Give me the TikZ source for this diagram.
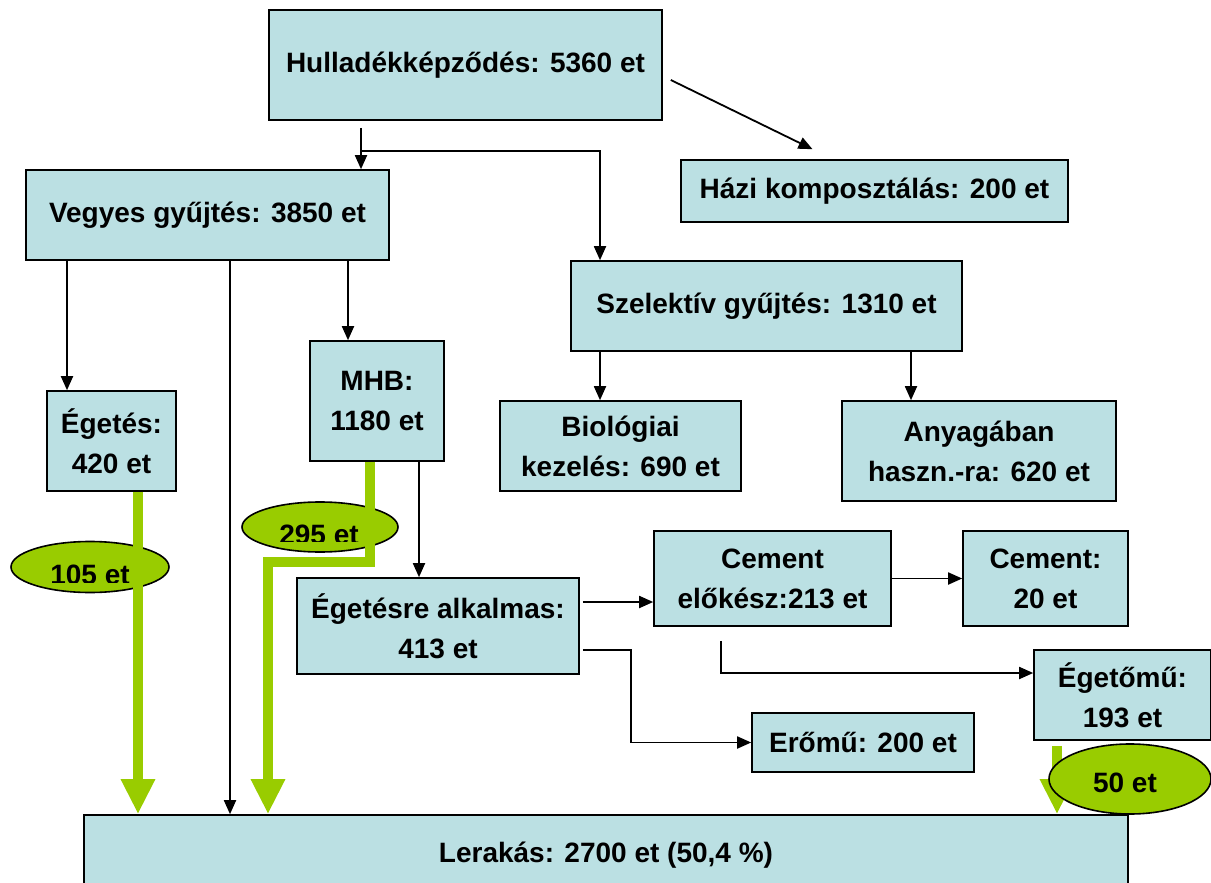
\documentclass[tikz,border=0pt]{standalone}
\usepackage{fontspec}
\setmainfont{Liberation Sans}
\usepackage{tikz}
\usetikzlibrary{arrows.meta,shapes.geometric}

\definecolor{boxblue}{HTML}{BBE0E3}
\definecolor{flowgreen}{HTML}{99CC00}

\begin{document}
\begin{tikzpicture}[
    x=0.5pt, y=-0.5pt,
    box/.style={draw, line width=0.8pt, fill=boxblue, align=center, inner sep=0pt,
        font=\fontsize{14}{20}\selectfont\bfseries},
    flow/.style={-{Triangle[length=7pt,width=6pt]}, line width=0.9pt},
    waste/.style={-{Triangle[length=17.5pt,width=16pt]}, draw=flowgreen, line width=5pt},
    amount/.style={ellipse, draw, line width=0.8pt, fill=flowgreen, inner sep=0pt},
    amounttext/.style={font=\fontsize{14}{16}\selectfont\bfseries}
]
\useasboundingbox (0,0) rectangle (1211,883);

% Boxes
\node[box, minimum width=196.5pt, minimum height=55pt] (hull) at (465.5,65) {Hulladékképződés: 5360 et};
\node[box, minimum width=193.5pt, minimum height=31pt] (hazi) at (874.5,191) {Házi komposztálás: 200 et};
\node[box, minimum width=181.5pt, minimum height=45pt] (vegyes) at (207.5,215) {Vegyes gyűjtés: 3850 et};
\node[box, minimum width=195.5pt, minimum height=45pt] (szel) at (766.5,306) {Szelektív gyűjtés: 1310 et};
\node[box, minimum width=64.5pt, minimum height=50pt] (eget) at (111.5,441) {Égetés:\\420 et};
\node[box, minimum width=67pt, minimum height=60pt] (mhb) at (377,401) {MHB:\\1180 et};
\node[box, minimum width=120.5pt, minimum height=45pt] (bio) at (620.5,446) {Biológiai\\kezelés: 690 et};
\node[box, minimum width=137pt, minimum height=50pt] (anyag) at (979,451) {Anyagában\\haszn.-ra: 620 et};
\node[box, minimum width=141pt, minimum height=48pt] (egalk) at (438,626) {Égetésre alkalmas:\\413 et};
\node[box, minimum width=118.5pt, minimum height=47.5pt] (cemelo) at (772.5,578.5) {Cement\\előkész:213 et};
\node[box, minimum width=82.5pt, minimum height=47.5pt] (cement) at (1045.5,578.5) {Cement:\\20 et};
\node[box, minimum width=88.5pt, minimum height=45pt] (egmu) at (1122.5,695) {Égetőmű:\\193 et};
\node[box, minimum width=111pt, minimum height=29.5pt] (eromu) at (863,742.5) {Erőmű: 200 et};
\node[box, minimum width=522pt, minimum height=40pt] (lerak) at (606,855) {Lerakás: 2700 et (50,4 \%)};

% Lanes
\coordinate (split) at (361,151);
\coordinate (xa) at (67,0);
\coordinate (xb) at (230,0);
\coordinate (xc) at (348,0);
\coordinate (xd) at (600,0);
\coordinate (xe) at (911,0);
\coordinate (xf) at (419,0);
\coordinate (xg) at (631,0);
\coordinate (xh) at (721,0);
\coordinate (ya) at (0,602);
\coordinate (yb) at (0,650);
\coordinate (yd) at (0,673);

% Flows
\draw[flow] ([xshift=4pt,yshift=-7.5pt]hull.east) -- ([xshift=-31pt,yshift=5pt]hazi.north);
\draw[flow, shorten <=3.5pt] (split |- hull.south) -- (split |- vegyes.north);
\draw[flow] (split) -| (xd |- szel.north);
\draw[flow] (xa |- vegyes.south) -- (xa |- eget.north);
\draw[flow] (xb |- vegyes.south) -- (xb |- lerak.north);
\draw[flow] (xc |- vegyes.south) -- (xc |- mhb.north);
\draw[flow] (xd |- szel.south) -- (xd |- bio.north);
\draw[flow] (xe |- szel.south) -- (xe |- anyag.north);
\draw[flow] (xf |- mhb.south) -- (xf |- egalk.north);
\draw[flow, shorten <=1.5pt] (egalk.east |- ya) -- (cemelo.west |- ya);
\draw[flow, shorten <=1.5pt] (egalk.east |- yb) -| (xg |- eromu.west) -- (eromu.west);
\draw[flow] (cemelo.east) -- (cement.west);
\draw[flow, shorten <=7pt] (xh |- cemelo.south) |- (egmu.west |- yd);

% Residues to landfill
\node[amount, minimum width=79pt, minimum height=25.5pt] (e105) at (90,567) {};
\node[amount, minimum width=78pt, minimum height=25pt] (e295) at (320,527) {};
\begin{scope}
\clip (0,530) rectangle (200,582);
\node[amounttext] (t105) at (90,575) {105 et};
\end{scope}
\begin{scope}
\clip (230,490) rectangle (410,541);
\node[amounttext] (t295) at (319,535) {295 et};
\end{scope}

\coordinate (gx1) at (138,0);
\coordinate (gx2) at (370,562);
\coordinate (gx3) at (268,562);
\coordinate (gx4) at (1057,0);
\draw[waste] (gx1 |- eget.south) -- (gx1 |- lerak.north);
\draw[waste] (gx2 |- mhb.south) -- (gx2) -- (gx3) -- (gx3 |- lerak.north);
\draw[waste, shorten <=2.5pt] (gx4 |- egmu.south) -- (gx4 |- lerak.north);

\node[amount, minimum width=81pt, minimum height=35pt] (e50) at (1130,779) {};
\node[amounttext] (t50) at (1125,783) {50 et};

\end{tikzpicture}
\end{document}
